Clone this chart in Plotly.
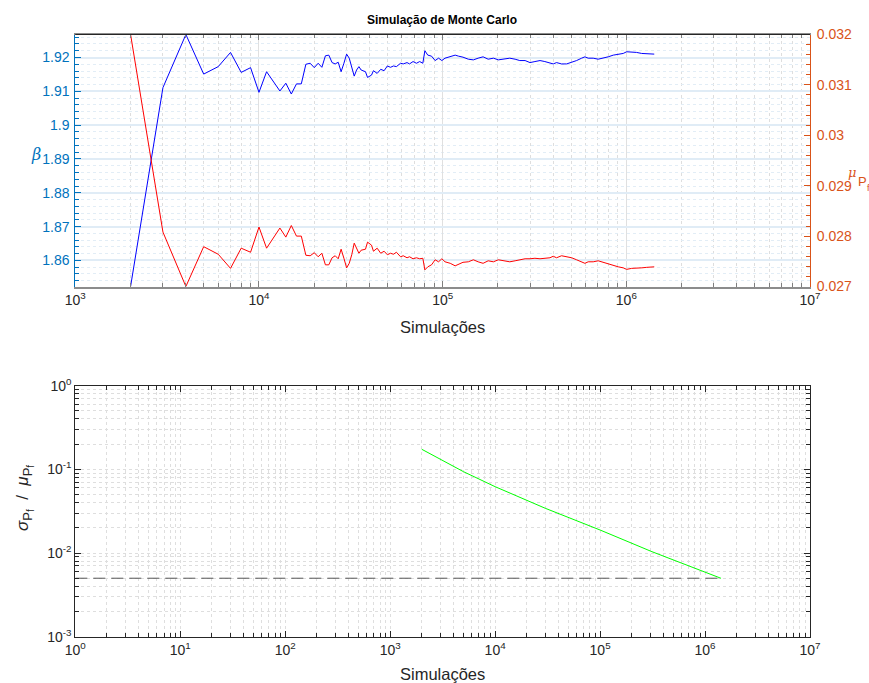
import plotly.graph_objects as go

# Convergence of the Monte Carlo reliability estimate
n_sim = [2000, 3000, 4000, 5000, 6000, 7000, 8000, 9000, 10000, 11000, 13000, 14000,
         15000, 16000, 17000, 18000, 19000, 20000, 21000, 22000, 23000, 24000, 25000,
         26000, 27000, 28000, 29000, 30000, 31000, 32000, 33000, 34000, 35000, 36000,
         38000, 39000, 41000, 42000, 44000, 46000, 48000, 50000, 52000, 54000, 56000,
         59000, 61000, 64000, 66000, 69000, 72000, 75000, 78000, 80000, 83000, 87000,
         91000, 95000, 99000, 103000, 110000, 117000, 122000, 129000, 138000, 147000,
         156000, 166000, 177000, 189000, 201000, 214000, 232000, 248000, 263000, 281000,
         299000, 318000, 339000, 360000, 384000, 400000, 417000, 444000, 473000, 504000,
         536000, 571000, 595000, 620000, 660000, 703000, 749000, 797000, 849000, 904000,
         962000, 1004000, 1069000, 1138000, 1212000, 1290000, 1419000]

mu_pf = [0.03200, 0.02808, 0.02700, 0.02779, 0.02764, 0.02736, 0.02776, 0.02768, 0.02818,
         0.02776, 0.02816, 0.02798, 0.02821, 0.02800, 0.02800, 0.02762, 0.02761, 0.02767,
         0.02759, 0.02766, 0.02743, 0.02743, 0.02757, 0.02761, 0.02755, 0.02774, 0.02756,
         0.02737, 0.02746, 0.02763, 0.02786, 0.02776, 0.02766, 0.02772, 0.02774, 0.02788,
         0.02782, 0.02770, 0.02776, 0.02766, 0.02770, 0.02763, 0.02766, 0.02764, 0.02768,
         0.02759, 0.02761, 0.02757, 0.02759, 0.02755, 0.02757, 0.02755, 0.02756, 0.02733,
         0.02739, 0.02743, 0.02753, 0.02749, 0.02755, 0.02749, 0.02746, 0.02741, 0.02744,
         0.02748, 0.02749, 0.02753, 0.02749, 0.02746, 0.02751, 0.02749, 0.02753, 0.02751,
         0.02749, 0.02751, 0.02753, 0.02755, 0.02755, 0.02756, 0.02755, 0.02756, 0.02757,
         0.02760, 0.02757, 0.02761, 0.02759, 0.02757, 0.02753, 0.02749, 0.02746, 0.02749,
         0.02749, 0.02751, 0.02748, 0.02744, 0.02741, 0.02739, 0.02737, 0.02734, 0.02736,
         0.02736, 0.02737, 0.02738, 0.02739]

beta = [1.8523, 1.9111, 1.9268, 1.9151, 1.9173, 1.9215, 1.9156, 1.9170, 1.9097, 1.9158,
        1.9101, 1.9124, 1.9092, 1.9122, 1.9122, 1.9180, 1.9183, 1.9170, 1.9183, 1.9171,
        1.9205, 1.9207, 1.9185, 1.9181, 1.9186, 1.9158, 1.9183, 1.9210, 1.9198, 1.9173,
        1.9145, 1.9163, 1.9173, 1.9163, 1.9158, 1.9141, 1.9148, 1.9161, 1.9153, 1.9165,
        1.9161, 1.9175, 1.9171, 1.9175, 1.9173, 1.9183, 1.9181, 1.9185, 1.9181, 1.9188,
        1.9183, 1.9188, 1.9183, 1.9220, 1.9207, 1.9204, 1.9191, 1.9198, 1.9191, 1.9198,
        1.9202, 1.9207, 1.9204, 1.9201, 1.9195, 1.9193, 1.9198, 1.9202, 1.9195, 1.9198,
        1.9193, 1.9195, 1.9198, 1.9195, 1.9191, 1.9191, 1.9185, 1.9188, 1.9191, 1.9188,
        1.9185, 1.9181, 1.9185, 1.9181, 1.9181, 1.9185, 1.9191, 1.9198, 1.9202, 1.9198,
        1.9198, 1.9195, 1.9198, 1.9202, 1.9207, 1.9210, 1.9212, 1.9217, 1.9217, 1.9215,
        1.9212, 1.9212, 1.9210]

# coefficient of variation of the failure probability estimate
cov_n = [2000, 5000, 10000, 30000, 100000, 312000, 1419000]
cov_pf = [0.1738, 0.0938, 0.0621, 0.0343, 0.01885, 0.01038, 0.00499]
cov_target = 0.005

beta_ticks = [1.86, 1.87, 1.88, 1.89, 1.90, 1.91, 1.92]
beta_labels = ["1.86", "1.87", "1.88", "1.89", "1.9", "1.91", "1.92"]
pf_ticks = [0.027, 0.028, 0.029, 0.030, 0.031, 0.032]
pf_labels = ["0.027", "0.028", "0.029", "0.03", "0.031", "0.032"]
top_decades = [3, 4, 5, 6, 7]
bottom_decades = [0, 1, 2, 3, 4, 5, 6, 7]
cov_decades = [-3, -2, -1, 0]

FONT = "Liberation Sans, Arial, Helvetica, sans-serif"
BLUE_AX = "#0072BD"
ORANGE_AX = "#D95319"
DARK = "#262626"
W, H = 869, 683
M = 8  # outer margin kept by the page
PW, PH = W - 2 * M, H - 2 * M


def px_x(p):
    return (p - M) / PW


def px_y(p):
    return 1 - (p - M) / PH


def decade_vals(decs):
    return [10.0 ** d for d in decs]


def decade_text(decs):
    return ["10<sup>%d</sup>" % d for d in decs]


def minor_vals(decs):
    out = []
    for d in decs[:-1]:
        out += [k * 10.0 ** d for k in range(2, 10)]
    return out


def pf_sub(sym):
    # symbol with a two-level "P_f" subscript
    return ("<i>%s</i><sub><span style='font-size:13px'>P</span>"
            "<sub><span style='font-size:10px'>f</span></sub></sub>" % sym)


fig = go.Figure()

fig.add_trace(go.Scatter(x=n_sim, y=beta, mode="lines", xaxis="x", yaxis="y",
                         line=dict(color="#0000FF", width=1), showlegend=False))
fig.add_trace(go.Scatter(x=n_sim, y=mu_pf, mode="lines", xaxis="x", yaxis="y2",
                         line=dict(color="#FF0000", width=1), showlegend=False))
fig.add_trace(go.Scatter(x=[1, n_sim[-1]], y=[cov_target, cov_target], mode="lines",
                         xaxis="x2", yaxis="y3",
                         line=dict(color="#555555", width=1, dash="12px,6px"),
                         showlegend=False))
fig.add_trace(go.Scatter(x=cov_n, y=cov_pf, mode="lines", xaxis="x2", yaxis="y3",
                         line=dict(color="#00FF00", width=1), showlegend=False))

x_dom = [px_x(75.3), px_x(810)]
top_dom = [px_y(286.5), px_y(34.5)]
bot_dom = [px_y(636.7), px_y(385.7)]
tick_font = dict(family=FONT, size=14, color=DARK)
MINOR_GRID = "#dedede"

fig.update_layout(
    width=W, height=H, autosize=False,
    margin=dict(l=M, r=M, t=M, b=M, pad=0),
    paper_bgcolor="white", plot_bgcolor="white",
    xaxis=dict(
        type="log", domain=x_dom, anchor="y", range=[3, 7], automargin=False,
        tickmode="array", tickvals=decade_vals(top_decades),
        ticktext=decade_text(top_decades), tickfont=tick_font,
        ticks="inside", ticklen=6, tickcolor="#7f7f7f",
        showline=True, linecolor="#8c8c8c", linewidth=1.5, mirror="ticks",
        showgrid=True, gridcolor="#e0e0e0", gridwidth=1,
        zeroline=False,
        minor=dict(tickmode="array", tickvals=minor_vals(top_decades),
                   ticks="inside", ticklen=4, tickcolor="#7f7f7f",
                   showgrid=True, gridcolor=MINOR_GRID, griddash="dot", gridwidth=1),
    ),
    yaxis=dict(
        domain=top_dom, anchor="x", range=[1.8523, 1.9268], automargin=False,
        tickmode="array", tickvals=beta_ticks, ticktext=beta_labels,
        tickfont=dict(family=FONT, size=14, color=BLUE_AX), ticklabelstandoff=2,
        ticks="inside", ticklen=6, tickcolor=BLUE_AX,
        showline=True, linecolor=BLUE_AX, linewidth=1,
        showgrid=True, gridcolor="#e0ecf6", gridwidth=1.5, zeroline=False,
        minor=dict(dtick=0.002, tick0=1.86, ticks="inside", ticklen=4,
                   tickcolor=BLUE_AX, showgrid=True, gridcolor="#e2edf6",
                   griddash="dot", gridwidth=1),
    ),
    yaxis2=dict(
        overlaying="y", side="right", anchor="x", range=[0.027, 0.032], automargin=False,
        tickmode="array", tickvals=pf_ticks, ticktext=pf_labels,
        tickfont=dict(family=FONT, size=14, color=ORANGE_AX), ticklabelstandoff=3,
        ticks="inside", ticklen=6, tickcolor=ORANGE_AX,
        showline=True, linecolor=ORANGE_AX, linewidth=1,
        showgrid=False, zeroline=False,
        minor=dict(dtick=0.0002, tick0=0.027, ticks="inside", ticklen=4,
                   tickcolor=ORANGE_AX, showgrid=False),
    ),
    xaxis2=dict(
        type="log", domain=x_dom, anchor="y3", range=[0, 7], automargin=False,
        tickmode="array", tickvals=decade_vals(bottom_decades),
        ticktext=decade_text(bottom_decades), tickfont=tick_font,
        ticks="inside", ticklen=6, tickcolor=DARK,
        showline=True, linecolor=DARK, linewidth=1, mirror="ticks",
        showgrid=True, gridcolor=MINOR_GRID, griddash="dot", gridwidth=1,
        zeroline=False,
        minor=dict(tickmode="array", tickvals=minor_vals(bottom_decades),
                   ticks="inside", ticklen=4, tickcolor=DARK,
                   showgrid=True, gridcolor=MINOR_GRID, griddash="dot", gridwidth=1),
    ),
    yaxis3=dict(
        type="log", domain=bot_dom, anchor="x2", range=[-3, 0], automargin=False,
        tickmode="array", tickvals=decade_vals(cov_decades),
        ticktext=decade_text(cov_decades), tickfont=tick_font,
        ticks="inside", ticklen=6, tickcolor=DARK,
        showline=True, linecolor=DARK, linewidth=1, mirror="ticks",
        showgrid=True, gridcolor=MINOR_GRID, griddash="dot", gridwidth=1,
        zeroline=False,
        minor=dict(tickmode="array", tickvals=minor_vals(cov_decades),
                   ticks="inside", ticklen=4, tickcolor=DARK,
                   showgrid=True, gridcolor=MINOR_GRID, griddash="dot", gridwidth=1),
    ),
)

# black top edge of the upper axes box
fig.add_shape(type="line", xref="x domain", yref="y domain", x0=0, x1=1, y0=1, y1=1,
              line=dict(color=DARK, width=1.2), layer="above")

ann = []
ann.append(dict(text="<b>Simulação de Monte Carlo</b>", x=px_x(442), y=px_y(20),
                font=dict(family=FONT, size=12, color="#000000")))
ann.append(dict(text="Simulações", x=px_x(442), y=px_y(327),
                font=dict(family=FONT, size=16.5, color=DARK)))
ann.append(dict(text="Simulações", x=px_x(442), y=px_y(674),
                font=dict(family=FONT, size=16.5, color=DARK)))
ann.append(dict(text="<i>β</i>", x=px_x(36), y=px_y(154),
                font=dict(family="DejaVu Serif, serif", size=16, color=BLUE_AX)))
ann.append(dict(text="<i>μ</i>", x=px_x(852), y=px_y(173),
                font=dict(family="DejaVu Serif, serif", size=13, color=ORANGE_AX)))
ann.append(dict(text="P", x=px_x(862), y=px_y(181),
                font=dict(family=FONT, size=13, color=ORANGE_AX)))
ann.append(dict(text="f", x=px_x(868), y=px_y(188),
                font=dict(family=FONT, size=9, color=ORANGE_AX)))
ann.append(dict(text=pf_sub("σ") + "  /  " + pf_sub("μ"),
                x=px_x(24), y=px_y(498), textangle=-90,
                font=dict(family=FONT, size=17, color=DARK)))
for a in ann:
    a.update(xref="paper", yref="paper", showarrow=False,
             xanchor="center", yanchor="middle")
fig.update_layout(annotations=ann)

fig.write_html("out.html")
